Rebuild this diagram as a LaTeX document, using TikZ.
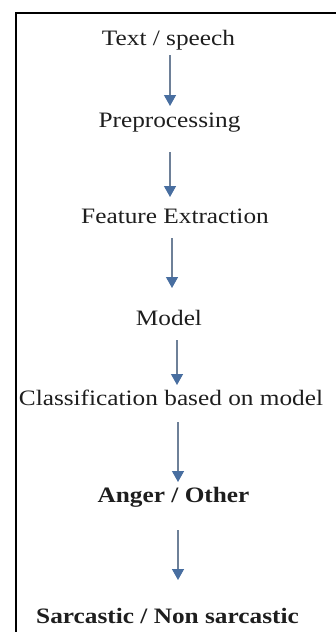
\documentclass[tikz,border=0pt]{standalone}
\usepackage{graphicx}
\usepackage{fontspec}
\setmainfont{Liberation Serif}
\usetikzlibrary{arrows.meta}
\definecolor{linegray}{RGB}{110,128,152}
\definecolor{headblue}{RGB}{72,110,160}
\definecolor{inkc}{RGB}{30,30,30}
\newcommand{\widetxt}[1]{\scalebox{1.15}[1]{#1}}
\begin{document}
\begin{tikzpicture}[x=1pt,y=-1pt,
  lbl/.style={anchor=base,inner sep=0pt,text=inkc,font=\fontsize{22}{26}\selectfont},
  blbl/.style={lbl,font=\fontsize{22}{26}\selectfont\bfseries},
  arr/.style={draw=linegray,line width=1.3pt,-{Triangle[width=12pt,length=11pt,color=headblue]}},
  frame/.style={line width=2.5pt,draw=black}]
\useasboundingbox (0,0) rectangle (336,632);
\coordinate (fb) at (16,632);
\coordinate (fc) at (16,13);
\coordinate (fr) at (336,13);
\draw[frame] (fb) -- (fc) -- (fr);
\node[lbl]  (t1) at (168.5,45)  {\widetxt{Text / speech}};
\node[lbl]  (t2) at (169.5,127) {\widetxt{Preprocessing}};
\node[lbl]  (t3) at (175,223)   {\widetxt{Feature Extraction}};
\node[lbl]  (t4) at (169,325)   {\widetxt{Model}};
\node[lbl]  (t5) at (171,405)   {\widetxt{Classification based on model}};
\node[blbl] (t6) at (173.5,502) {\widetxt{Anger / Other}};
\node[blbl] (t7) at (167.5,623) {\widetxt{Sarcastic / Non sarcastic}};
\draw[arr] ([xshift=1.5pt,yshift=-10pt]t1.base) -- ([xshift=0.5pt,yshift=21pt]t2.base);
\draw[arr] ([xshift=0.5pt,yshift=-25pt]t2.base) -- ([xshift=-5pt,yshift=26pt]t3.base);
\draw[arr] ([xshift=-3pt,yshift=-15pt]t3.base) -- ([xshift=3pt,yshift=37pt]t4.base);
\draw[arr] ([xshift=8pt,yshift=-15pt]t4.base) -- ([xshift=6pt,yshift=20pt]t5.base);
\draw[arr] ([xshift=7pt,yshift=-17pt]t5.base) -- ([xshift=4.5pt,yshift=20pt]t6.base);
\draw[arr] ([xshift=4.5pt,yshift=-28pt]t6.base) -- ([xshift=10.5pt,yshift=43pt]t7.base);
\end{tikzpicture}
\end{document}
